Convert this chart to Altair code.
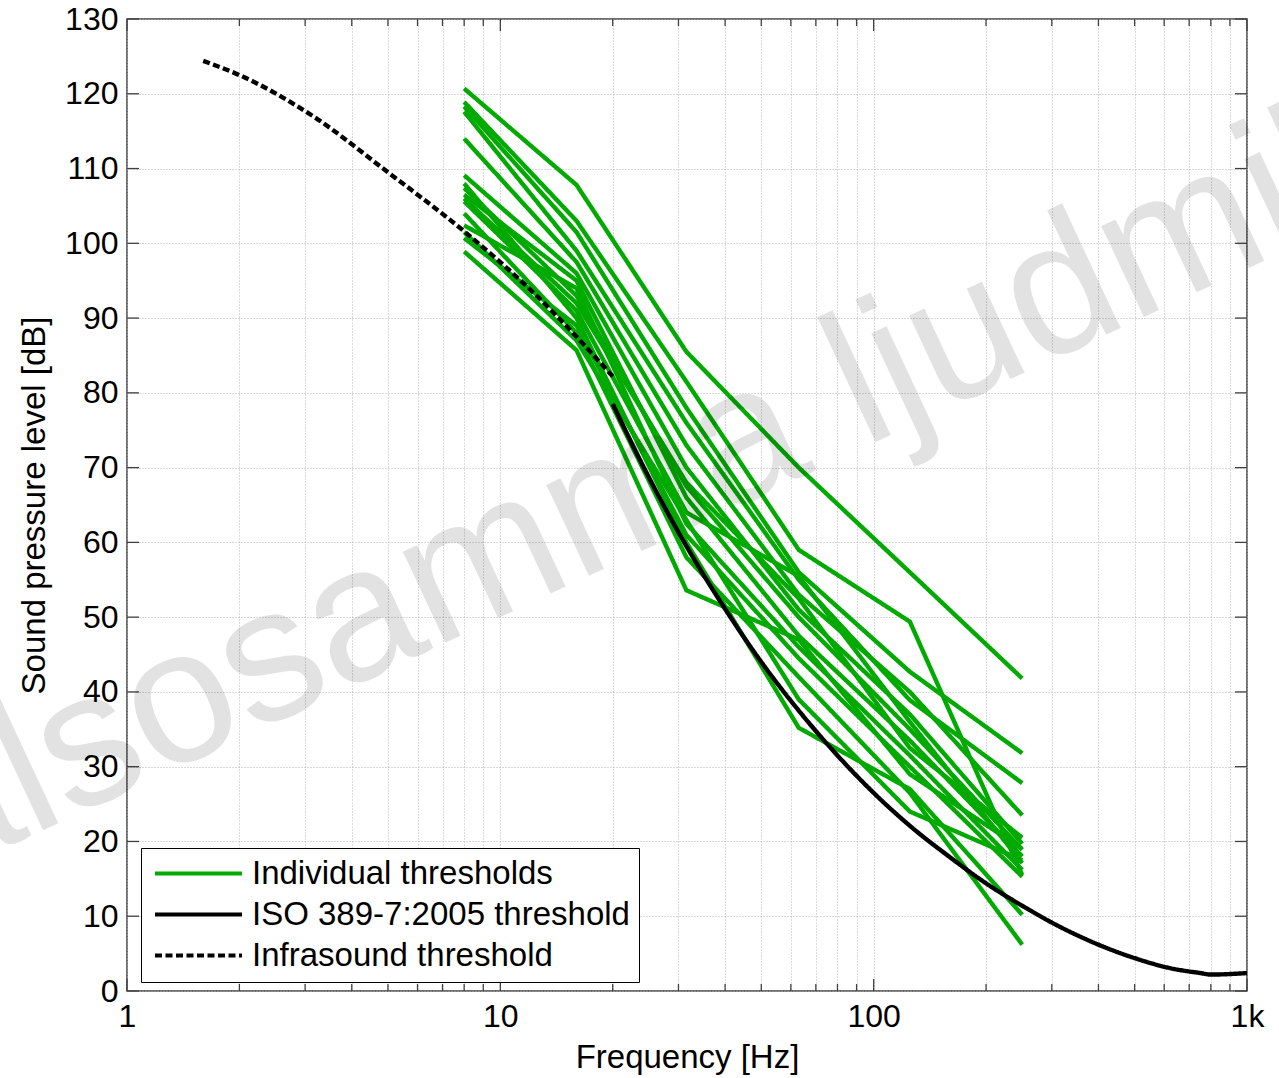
import altair as alt
import pandas as pd

# ---------------- data ----------------
ind_freqs = [8, 16, 31.5, 63, 125, 250]
ind_lines = [
    [120.7, 107.8, 85.5, 70.0, 56.0, 41.8],
    [118.9, 103.0, 81.5, 59.0, 49.4, 15.5],
    [118.3, 101.5, 78.0, 56.0, 42.7, 31.8],
    [117.6, 99.0, 76.0, 55.0, 38.9, 27.8],
    [114.0, 97.5, 73.0, 53.0, 40.0, 23.5],
    [109.1, 96.0, 70.0, 51.0, 37.0, 19.7],
    [107.4, 93.0, 67.5, 50.0, 35.0, 18.9],
    [106.5, 95.0, 66.0, 47.5, 33.5, 18.0],
    [105.6, 91.0, 64.0, 55.5, 36.0, 17.1],
    [102.4, 94.0, 62.5, 46.0, 31.5, 16.2],
    [100.7, 89.0, 61.0, 44.5, 30.0, 15.3],
    [98.9, 85.7, 53.6, 47.0, 29.0, 19.0],
    [108.0, 90.0, 60.0, 35.2, 27.0, 10.2],
    [104.0, 88.0, 58.0, 42.0, 26.5, 6.2],
    [101.5, 87.0, 63.0, 39.0, 24.0, 17.5],
    [106.0, 92.0, 68.0, 52.5, 32.5, 20.5],
]

iso_f = [20, 25, 31.5, 40, 50, 63, 80, 100, 125, 160, 200, 250, 315, 400, 500, 630, 750, 800, 1000]
iso_spl = [78.5, 68.7, 59.5, 51.1, 44.0, 37.5, 31.5, 26.5, 22.1, 17.9, 14.4, 11.4, 8.6, 6.2, 4.4, 3.0, 2.4, 2.2, 2.4]

infra_f = [1.6, 2, 3.15, 5, 8, 12.5, 20]
infra_spl = [124.4, 122.5, 117.0, 109.5, 101.6, 93.0, 82.2]

x_major = [1, 10, 100, 1000]
x_minor = [2, 3, 4, 5, 6, 7, 8, 9, 20, 30, 40, 50, 60, 70, 80, 90, 200, 300, 400, 500, 600, 700, 800, 900]
y_ticks = list(range(0, 131, 10))

S_IND = "Individual thresholds"
S_ISO = "ISO 389-7:2005 threshold"
S_INF = "Infrasound threshold"
series_names = [S_IND, S_ISO, S_INF]
watermark = "hälsosamma ljudmiljöer"

# ---------------- tables ----------------
rows = []
for i, vals in enumerate(ind_lines):
    for f, v in zip(ind_freqs, vals):
        rows.append({"f": f, "spl": v, "subj": i, "series": S_IND})
df_ind = pd.DataFrame(rows)
df_iso = pd.DataFrame({"f": iso_f, "spl": iso_spl, "series": S_ISO})
df_inf = pd.DataFrame({"f": infra_f, "spl": infra_spl, "series": S_INF})
df_xmaj = pd.DataFrame({"f": x_major})
df_xmin = pd.DataFrame({"f": x_minor})
df_y = pd.DataFrame({"spl": y_ticks})
df_wm = pd.DataFrame({"t": [watermark]})

# ---------------- layout ----------------
W, H = 1120, 972
FONT = "Liberation Sans"
AX = "#404040"

x_axis = alt.Axis(
    values=x_major + x_minor,
    labelExpr="datum.value == 1000 ? '1k' : ((datum.value == 1 || datum.value == 10 || datum.value == 100) ? '' + datum.value : '')",
    labelOverlap=False, labelFlush=False, ticks=False, domain=False,
    grid=True, gridColor="#b4b4b4", gridDash=[1, 2], gridWidth=1,
    labelFont=FONT, labelFontSize=32, labelColor="black", labelPadding=10,
    title="Frequency [Hz]", titleFont=FONT, titleFontSize=33, titleFontWeight="normal",
    titleColor="black", titlePadding=9,
)
y_axis = alt.Axis(
    values=y_ticks, labelOverlap=False, labelFlush=False, ticks=False, domain=False,
    grid=True, gridColor="#b4b4b4", gridDash=[1, 2], gridWidth=1,
    labelFont=FONT, labelFontSize=32, labelColor="black", labelPadding=9,
    title="Sound pressure level [dB]", titleFont=FONT, titleFontSize=33, titleFontWeight="normal",
    titleColor="black", titlePadding=13,
)
x_scale = alt.Scale(type="log", domain=[1, 1000], nice=False)
y_scale = alt.Scale(domain=[0, 130], nice=False, zero=False)

X = alt.X("f:Q", scale=x_scale, axis=x_axis)
Y = alt.Y("spl:Q", scale=y_scale, axis=y_axis)

legend = alt.Legend(
    orient="none", legendX=14, legendY=829, title=None,
    strokeColor="black", fillColor="white", padding=9, cornerRadius=0,
    symbolType="M-4.35,0H4.35", symbolSize=400, symbolStrokeWidth=4,
    symbolOffset=32, labelOffset=37,
    labelFont=FONT, labelFontSize=33, labelColor="black", labelLimit=700,
    rowPadding=7,
)
color = alt.Color("series:N", scale=alt.Scale(domain=series_names, range=["#00aa00", "#000000", "#000000"]), legend=legend)
dash = alt.StrokeDash("series:N", scale=alt.Scale(domain=series_names, range=[[1, 0], [1, 0], [7, 3.5]]), legend=legend)

ind = alt.Chart(df_ind).mark_line(strokeWidth=4.4).encode(x=X, y=Y, color=color, strokeDash=dash, detail="subj:N")
iso = alt.Chart(df_iso).mark_line(strokeWidth=4.4, interpolate="monotone").encode(x=X, y=Y, color=color, strokeDash=dash)
inf = alt.Chart(df_inf).mark_line(strokeWidth=4.4, interpolate="monotone").encode(x=X, y=Y, color=color, strokeDash=dash)

tick_style = dict(color=AX, strokeWidth=1.3)
xb_maj = alt.Chart(df_xmaj).mark_rule(**tick_style).encode(x=X, y=alt.value(H), y2=alt.value(H - 12))
xt_maj = alt.Chart(df_xmaj).mark_rule(**tick_style).encode(x=X, y=alt.value(0), y2=alt.value(12))
xb_min = alt.Chart(df_xmin).mark_rule(**tick_style).encode(x=X, y=alt.value(H), y2=alt.value(H - 7))
xt_min = alt.Chart(df_xmin).mark_rule(**tick_style).encode(x=X, y=alt.value(0), y2=alt.value(7))
yl = alt.Chart(df_y).mark_rule(**tick_style).encode(y=Y, x=alt.value(0), x2=alt.value(12))
yr = alt.Chart(df_y).mark_rule(**tick_style).encode(y=Y, x=alt.value(W), x2=alt.value(W - 12))

wm = alt.Chart(df_wm).mark_text(
    font=FONT, fontSize=190, angle=335, align="left", baseline="alphabetic",
    color="black", opacity=0.11,
).encode(x=alt.value(-287), y=alt.value(906), text="t:N")

chart = alt.layer(
    ind, iso, inf, xb_maj, xt_maj, xb_min, xt_min, yl, yr, wm
).properties(
    width=W, height=H,
    autosize=alt.AutoSizeParams(type="none"),
    padding={"left": 127, "top": 19, "right": 32, "bottom": 87},
    background="white",
).configure_view(stroke=AX, strokeWidth=1.5)

chart.save("out.html", embed_options={"renderer": "svg", "actions": False})
